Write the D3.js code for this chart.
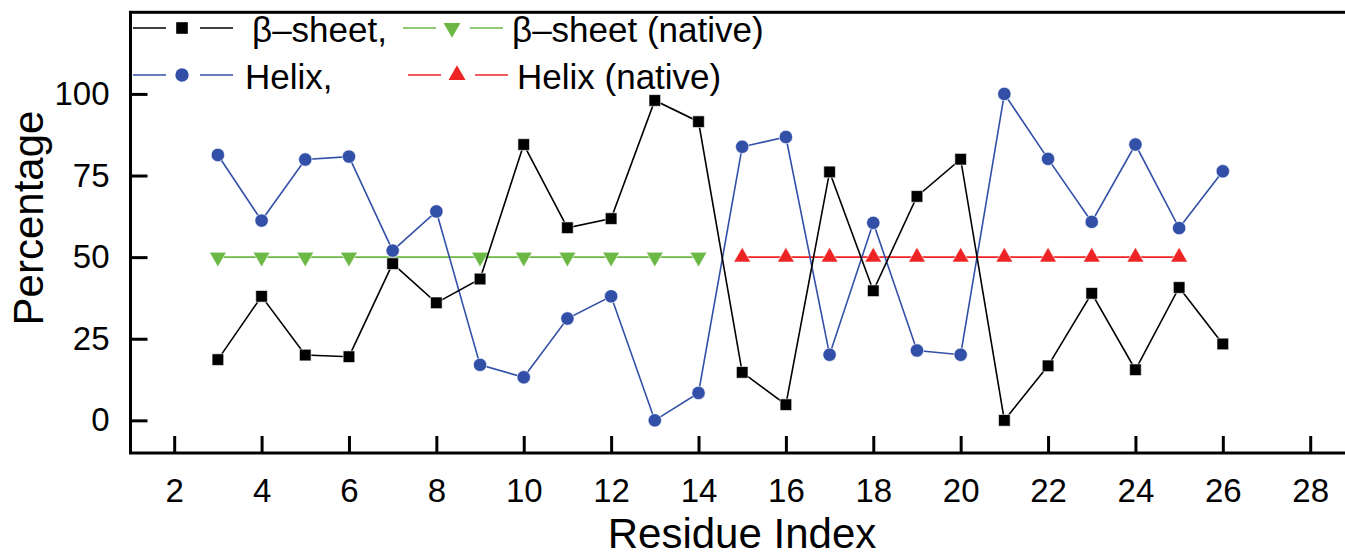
<!DOCTYPE html>
<html>
<head>
<meta charset="utf-8">
<script src="https://cdn.jsdelivr.net/npm/d3@7"></script>
<style>
  body { margin: 0; background: #fff; }
  svg { display: block; font-family: Arial, "Liberation Sans", sans-serif; }
</style>
</head>
<body>
<div id="vis"></div>
<script>
// datos
const RESIDUES = [3, 4, 5, 6, 7, 8, 9, 10, 11, 12, 13, 14, 15, 16, 17, 18, 19, 20, 21, 22, 23, 24, 25, 26];
const SHEET = [18.6, 38, 20, 19.5, 48, 36, 43.3, 84.5, 59, 61.8, 98, 91.5, 14.7, 4.8, 76.1, 39.7, 68.6, 80, 0, 16.7, 38.9, 15.5, 40.7, 23.4];
const HELIX = [81.3, 61.2, 79.9, 80.8, 52, 64, 17, 13.2, 31.2, 38, 0, 8.4, 83.8, 86.8, 20.1, 60.5, 21.4, 20.1, 100, 80.1, 60.8, 84.5, 58.9, 76.3];
const SHEET_NATIVE_RES = [3, 4, 5, 6, 9, 10, 11, 12, 13, 14];
const HELIX_NATIVE_RES = [15, 16, 17, 18, 19, 20, 21, 22, 23, 24, 25];
const NATIVE_VALUE = 50;
const X_TICKS = [2, 4, 6, 8, 10, 12, 14, 16, 18, 20, 22, 24, 26, 28];
const Y_TICKS = [0, 25, 50, 75, 100];

const WIDTH = 1345;
const HEIGHT = 559;

const COLORS = { sheet: "#000000", helix: "#3350a8", sheetNative: "#6cb844", helixNative: "#ee2424" };

const SVG = d3.select("#vis").append("svg").attr("width", WIDTH).attr("height", HEIGHT);

const xScale = d3.scaleLinear().domain([1, 29]).range([130.5, 1353.9]);
const yScale = d3.scaleLinear().domain([-10, 125]).range([453, 12.3]);

// marcadores
const symSquare = d3.symbol().type(d3.symbolSquare).size(135);
const symCircle = d3.symbol().type(d3.symbolCircle).size(140);
const symTri = d3.symbol().type(d3.symbolTriangle).size(125);

function drawSeries(xs, ys, color, sym, rotate) {
  const pts = xs.map((x, i) => [x, ys[i]]);
  const line = d3.line().x(d => xScale(d[0])).y(d => yScale(d[1]));
  SVG.append("path")
    .datum(pts)
    .attr("d", line)
    .attr("fill", "none")
    .attr("stroke", color)
    .attr("stroke-width", 1.6);
  SVG.append("g")
    .selectAll("path")
    .data(pts)
    .join("path")
    .attr("d", sym)
    .attr("transform", d => `translate(${xScale(d[0])},${yScale(d[1])}) rotate(${rotate})`)
    .attr("fill", color)
    .attr("stroke", "#fff")
    .attr("stroke-width", 0.6);
}

drawSeries(SHEET_NATIVE_RES, SHEET_NATIVE_RES.map(() => NATIVE_VALUE), COLORS.sheetNative, symTri, 180);
drawSeries(HELIX_NATIVE_RES, HELIX_NATIVE_RES.map(() => NATIVE_VALUE), COLORS.helixNative, symTri, 0);
drawSeries(RESIDUES, HELIX, COLORS.helix, symCircle, 0);
drawSeries(RESIDUES, SHEET, COLORS.sheet, symSquare, 0);

// ejes
const xAxis = d3.axisBottom(xScale).tickValues(X_TICKS).tickSize(-17).tickPadding(26).tickSizeOuter(0);
const gx = SVG.append("g").attr("transform", `translate(0, ${yScale(-10)})`).call(xAxis);
const yAxis = d3.axisLeft(yScale).tickValues(Y_TICKS).tickSize(-17).tickPadding(21).tickSizeOuter(0);
const gy = SVG.append("g").attr("transform", `translate(${xScale(1)}, 0)`).call(yAxis);

[gx, gy].forEach(g => {
  g.selectAll(".domain").remove();
  g.selectAll(".tick line").attr("stroke", "#000").attr("stroke-width", 3);
  g.selectAll(".tick text").attr("font-size", 33).attr("fill", "#000").attr("font-family", "Arial, 'Liberation Sans', sans-serif");
});
gx.selectAll(".tick text").attr("dy", "0.71em").attr("y", 26);

// marco
SVG.append("rect")
  .attr("x", xScale(1))
  .attr("y", yScale(125))
  .attr("width", xScale(29) - xScale(1))
  .attr("height", yScale(-10) - yScale(125))
  .attr("fill", "none")
  .attr("stroke", "#000")
  .attr("stroke-width", 3);

// titulos
SVG.append("text")
  .attr("x", 742)
  .attr("y", 548)
  .attr("text-anchor", "middle")
  .attr("font-size", 42)
  .text("Residue Index");

SVG.append("text")
  .attr("transform", "translate(43, 218) rotate(-90)")
  .attr("text-anchor", "middle")
  .attr("font-size", 42)
  .text("Percentage");

// leyenda
const LEGEND = [
  { label: "\u03b2\u2013sheet,", color: COLORS.sheet, sym: symSquare, rot: 0, x: 133, y: 28, tx: 252 },
  { label: "\u03b2\u2013sheet (native)", color: COLORS.sheetNative, sym: symTri, rot: 180, x: 403, y: 28, tx: 512 },
  { label: "Helix,", color: COLORS.helix, sym: symCircle, rot: 0, x: 133, y: 75, tx: 245 },
  { label: "Helix (native)", color: COLORS.helixNative, sym: symTri, rot: 0, x: 408, y: 75, tx: 517 },
];

const legend = SVG.append("g")
  .selectAll("g")
  .data(LEGEND)
  .join("g")
  .attr("transform", d => `translate(${d.x}, ${d.y})`);

legend.append("line").attr("x1", 0).attr("x2", 33).attr("stroke", d => d.color).attr("stroke-width", 1.6);
legend.append("line").attr("x1", 67).attr("x2", 100).attr("stroke", d => d.color).attr("stroke-width", 1.6);
legend.append("path")
  .attr("d", d => d.sym())
  .attr("transform", d => `translate(49, 0) rotate(${d.rot})`)
  .attr("fill", d => d.color);
legend.append("text")
  .attr("x", d => d.tx - d.x)
  .attr("y", 14)
  .attr("font-size", 35)
  .text(d => d.label);
</script>
</body>
</html>
